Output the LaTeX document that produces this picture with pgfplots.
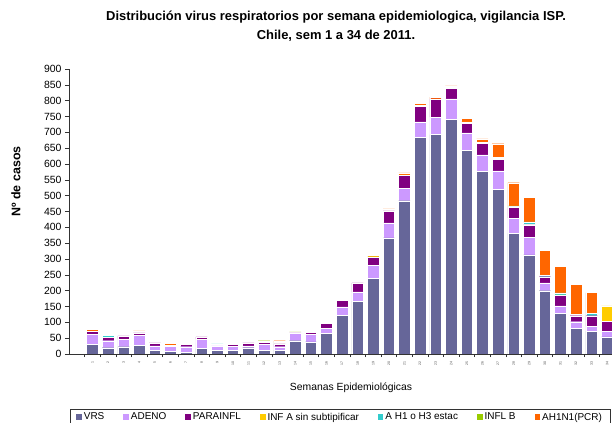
\documentclass[border=0pt]{standalone}
\usepackage{fontspec}
\setmainfont{Liberation Sans}
\usepackage{pgfplots}
\usepackage{pgfplotstable}
\pgfplotsset{compat=1.18}

\definecolor{cVRS}{HTML}{666699}
\definecolor{cADENO}{HTML}{CC99FF}
\definecolor{cPARA}{HTML}{800080}
\definecolor{cINFA}{HTML}{FFCC00}
\definecolor{cHTRES}{HTML}{33CCCC}
\definecolor{cINFLB}{HTML}{99CC00}
\definecolor{cPCR}{HTML}{FF6600}

% semana, VRS, ADENO, PARAINFL, INF A, AH1/H3, INFL B, AH1N1(PCR)
\pgfplotstableread{
sem vrs adeno para infa htres inflb pcr
1   30  33  8   0   0   0   7
2   20  22  10  0   6   0   0
3   23  23  11  0   0   0   0
4   27  33  7   2   0   0   4
5   12  14  9   0   0   0   0
6   8   17  3   0   0   0   5
7   6   17  7   0   0   0   0
8   17  29  8   0   0   0   0
9   12  14  1   0   5   0   0
10  12  12  6   0   0   3   0
11  20  6   9   0   0   0   0
12  12  18  7   3   0   2   0
13  12  11  9   1   3   1   5
14  42  23  2   0   0   3   0
15  38  25  5   3   0   0   3
16  65  16  16  0   0   0   0
17  123 26  21  0   0   0   0
18  167 29  29  0   0   0   0
19  240 41  26  5   0   0   0
20  367 47  38  2   0   0   4
21  484 39  41  2   0   0   6
22  685 48  50  3   0   0   6
23  693 55  58  0   0   0   5
24  742 64  33  3   0   0   5
25  643 55  31  4   0   0   11
26  576 53  36  4   0   0   10
27  521 57  36  3   5   0   42
28  381 48  34  0   2   3   73
29  313 56  39  2   7   0   77
30  200 25  19  0   4   0   80
31  128 24  33  2   6   0   84
32  82  20  19  0   2   2   96
33  72  16  33  0   7   0   66
34  54  17  33  48  0   0   0
}\datos

\begin{document}
\begin{tikzpicture}
\begin{axis}[
    at={(69bp,69bp)}, anchor=south west,
    scale only axis, width=546bp, height=285bp,
    xmin=-0.5, xmax=34.5, ymin=0, ymax=900,
    ybar stacked, bar width=11.6bp,
    axis lines=left,
    axis line style={-, black!80, line width=0.6bp},
    ytick={0,50,...,900},
    xtick={1,...,34},
    minor xtick={0.5,1.5,...,34.5},
    major x tick style={draw=none},
    tick align=outside,
    major tick length=4bp, minor tick length=3bp,
    tick style={black!80, line width=0.6bp},
    /pgf/number format/assume math mode=true,
    yticklabel style={font=\fontsize{10.5}{12}\selectfont},
    xticklabel style={font=\fontsize{3.5}{4}\selectfont, rotate=90, anchor=east, text=black!70},
    every axis plot/.append style={draw=white, line width=0.3bp},
    legend columns=7,
    legend cell align=left,
    legend image code/.code={\fill[#1, draw=none] (0bp,-2.8bp) rectangle (5.6bp,2.8bp);},
    legend style={at={(axis description cs:0.0018,-0.193)}, anchor=north west,
        draw=black!80, line width=0.6bp,
        font=\fontsize{10}{12}\selectfont,
        inner xsep=6bp, inner ysep=1.5bp,
        /tikz/every even column/.append style={column sep=17bp}},
]
\addplot[fill=cVRS] table[x=sem, y=vrs] {\datos};
\addlegendentry{VRS}
\addplot[fill=cADENO] table[x=sem, y=adeno] {\datos};
\addlegendentry{ADENO}
\addplot[fill=cPARA] table[x=sem, y=para] {\datos};
\addlegendentry{PARAINFL}
\addplot[fill=cINFA] table[x=sem, y=infa] {\datos};
\addlegendentry{INF A sin subtipificar}
\addplot[fill=cHTRES] table[x=sem, y=htres] {\datos};
\addlegendentry{A H1 o H3 estac}
\addplot[fill=cINFLB] table[x=sem, y=inflb] {\datos};
\addlegendentry{INFL B}
\addplot[fill=cPCR] table[x=sem, y=pcr] {\datos};
\addlegendentry{AH1N1(PCR)}
\end{axis}

\node[font={\fontsize{13}{15}\selectfont\bfseries}] at (336bp,406bp)
  {Distribución virus respiratorios por semana epidemiologica, vigilancia ISP.};
\node[font={\fontsize{13}{15}\selectfont\bfseries}] at (336bp,387bp)
  {Chile, sem 1 a 34 de 2011.};
\node[font={\fontsize{12.5}{15}\selectfont\bfseries}, rotate=90] at (16bp,241.5bp)
  {Nº de casos};
\node[font={\fontsize{10.4}{12}\selectfont}] at (351bp,35bp)
  {Semanas Epidemiológicas};

\pgfresetboundingbox
\path[use as bounding box] (0,0) rectangle (612bp,423bp);
\end{tikzpicture}
\end{document}
